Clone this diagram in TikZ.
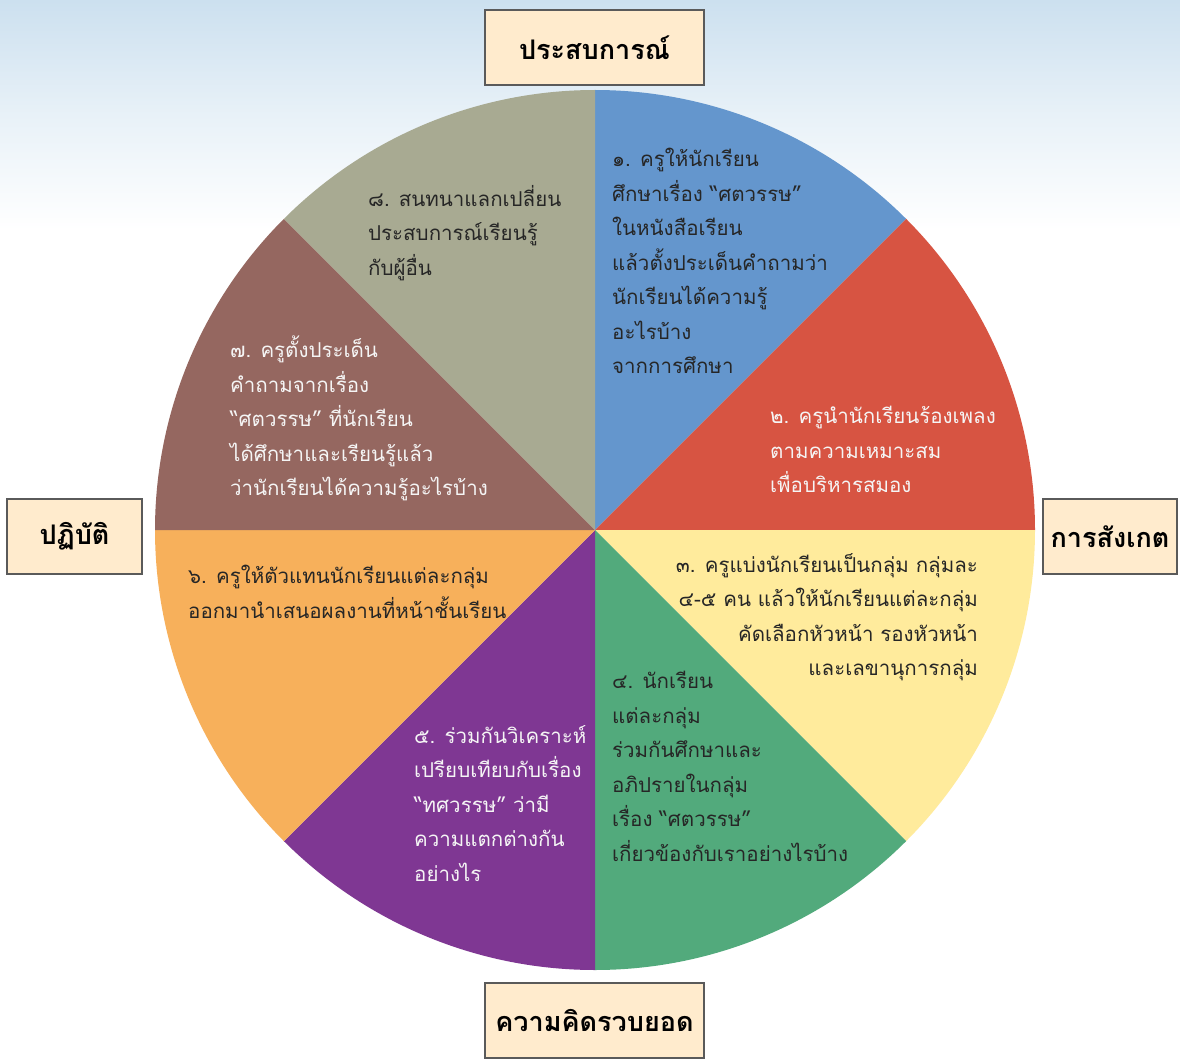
\documentclass[tikz,border=0pt]{standalone}
\usepackage{fontspec}
\newfontfamily\thaifont[Script=Thai]{Loma}
\definecolor{sky}{HTML}{CCE0EF}
\definecolor{cblue}{HTML}{6496CD}
\definecolor{cred}{HTML}{D75442}
\definecolor{cyellow}{HTML}{FFEB9C}
\definecolor{cgreen}{HTML}{52AA7C}
\definecolor{cpurple}{HTML}{7F3793}
\definecolor{corange}{HTML}{F7B05B}
\definecolor{cbrown}{HTML}{956760}
\definecolor{cgray}{HTML}{A8AA92}
\definecolor{boxfill}{HTML}{FFEBCD}
\definecolor{boxline}{HTML}{5A5A5A}
\definecolor{darktext}{HTML}{262626}
\definecolor{lighttext}{HTML}{F5F5F5}
\begin{document}
\begin{tikzpicture}[x=1pt,y=-1pt,
  sectortext/.style={inner sep=0pt, font=\thaifont\fontsize{20.5}{34.5}\selectfont},
  dark/.style={sectortext, text=darktext},
  light/.style={sectortext, text=lighttext},
  labelbox/.style={draw=boxline, line width=1.5pt, fill=boxfill, minimum height=75pt, inner sep=0pt,
     font=\thaifont\bfseries\fontsize{27}{30}\selectfont, text=black}]
\useasboundingbox (0,0) rectangle (1180,1059);
\fill[white] (0,0) rectangle (1180,1059);
\shade[top color=sky, bottom color=white, middle color=sky!45] (0,0) rectangle (1180,230);
\coordinate (c) at (595,530);
\def\R{440}
\foreach \col [count=\i from 0] in {cblue,cred,cyellow,cgreen,cpurple,corange,cbrown,cgray}{
  \pgfmathsetmacro{\a}{-90+45*\i}
  \pgfmathsetmacro{\b}{-45+45*\i}
  \fill[\col] (c) -- ++(\a:\R) arc[start angle=\a, end angle=\b, radius=\R] -- cycle;
}
% sector texts
\node[dark, align=left, anchor=north west] (t1) at (612,148)
  {๑. ครูให้นักเรียน\\ศึกษาเรื่อง “ศตวรรษ”\\ในหนังสือเรียน\\แล้วตั้งประเด็นคำถามว่า\\นักเรียนได้ความรู้\\อะไรบ้าง\\จากการศึกษา};
\node[light, align=left, anchor=north west] (t2) at (770,406)
  {๒. ครูนำนักเรียนร้องเพลง\\ตามความเหมาะสม\\เพื่อบริหารสมอง};
\node[dark, align=right, anchor=north east] (t3) at (978,553)
  {๓. ครูแบ่งนักเรียนเป็นกลุ่ม กลุ่มละ\\๔-๕ คน แล้วให้นักเรียนแต่ละกลุ่ม\\คัดเลือกหัวหน้า รองหัวหน้า\\และเลขานุการกลุ่ม};
\node[dark, align=left, anchor=north west] (t4) at (612,671)
  {๔. นักเรียน\\แต่ละกลุ่ม\\ร่วมกันศึกษาและ\\อภิปรายในกลุ่ม\\เรื่อง “ศตวรรษ”\\เกี่ยวข้องกับเราอย่างไรบ้าง};
\node[light, align=left, anchor=north west] (t5) at (414,725)
  {๕. ร่วมกันวิเคราะห์\\เปรียบเทียบกับเรื่อง\\“ทศวรรษ” ว่ามี\\ความแตกต่างกัน\\อย่างไร};
\node[dark, align=left, anchor=north west] (t6) at (188,565)
  {๖. ครูให้ตัวแทนนักเรียนแต่ละกลุ่ม\\ออกมานำเสนอผลงานที่หน้าชั้นเรียน};
\node[light, align=left, anchor=north west] (t7) at (230,336)
  {๗. ครูตั้งประเด็น\\คำถามจากเรื่อง\\“ศตวรรษ” ที่นักเรียน\\ได้ศึกษาและเรียนรู้แล้ว\\ว่านักเรียนได้ความรู้อะไรบ้าง};
\node[dark, align=left, anchor=north west] (t8) at (368,185)
  {๘. สนทนาแลกเปลี่ยน\\ประสบการณ์เรียนรู้\\กับผู้อื่น};
% label boxes
\node[labelbox, minimum width=219pt] (b1) at (594.5,47.5) {ประสบการณ์};
\node[labelbox, minimum width=134pt] (b2) at (1110,536.5) {การสังเกต};
\node[labelbox, minimum width=219pt] (b3) at (594.5,1020.5) {ความคิดรวบยอด};
\node[labelbox, minimum width=135pt] (b4) at (74.5,536.5) {ปฏิบัติ};
\end{tikzpicture}
\end{document}
